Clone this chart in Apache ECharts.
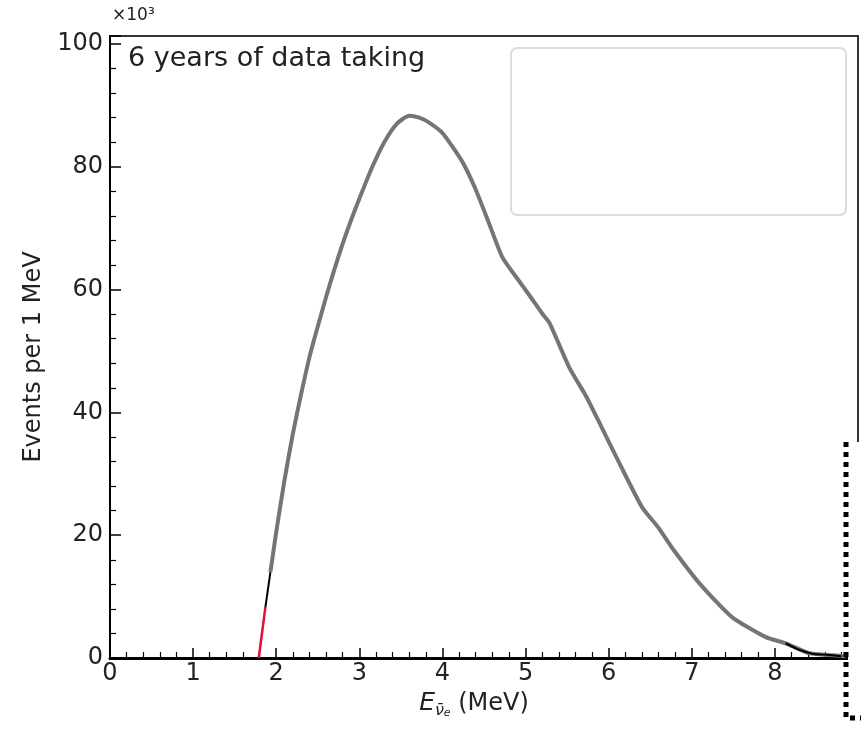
<!DOCTYPE html>
<html>
<head>
<meta charset="utf-8">
<script src="https://cdn.jsdelivr.net/npm/echarts@6/dist/echarts.min.js"></script>
<style>html,body{margin:0;padding:0;background:#fff;}#c{width:861px;height:739px;}</style>
</head>
<body>
<div id="c"></div>
<script>
// Neutrino energy (MeV) and events per 1 MeV (x10^3)
var energy = [1.93, 2.0, 2.1, 2.2, 2.3, 2.4, 2.5, 2.6, 2.7, 2.8, 2.9, 3.0, 3.15, 3.3, 3.45, 3.6, 3.72, 3.84, 4.0, 4.24, 4.4, 4.56, 4.72, 4.9, 5.05, 5.2, 5.29, 5.53, 5.73, 5.9, 6.13, 6.4, 6.6, 6.76, 7.09, 7.48, 7.89, 8.13, 8.41, 8.65, 8.85];
var events = [14.0, 20.5, 29.0, 36.5, 43.0, 49.0, 54.0, 58.8, 63.3, 67.5, 71.3, 74.8, 79.8, 84.0, 87.0, 88.3, 88.0, 87.2, 85.5, 80.8, 76.3, 70.8, 65.3, 61.8, 59.0, 56.1, 54.5, 47.2, 42.6, 38.0, 31.7, 24.6, 21.2, 18.0, 12.2, 6.7, 3.4, 2.4, 0.8, 0.5, 0.3];
// partially visible overlapping curves
var redE = [1.79, 1.87];
var redV = [0, 8.3];
var blackE = [1.87, 1.93];
var blackV = [8.3, 14.0];
var tailBlackE = [8.13, 8.3, 8.45, 8.6, 8.8];
var tailBlackV = [2.4, 1.3, 0.7, 0.55, 0.3];
var xTicks = [0, 1, 2, 3, 4, 5, 6, 7, 8];
var yTicks = [0, 20, 40, 60, 80, 100];

function pairs(a, b) { return a.map(function (v, i) { return [v, b[i]]; }); }

var chart = echarts.init(document.getElementById('c'), null, {renderer: 'canvas'});
var font = 'DejaVu Sans';
chart.setOption({
  animation: false,
  backgroundColor: '#fff',
  grid: {left: 110, right: 2, top: 36, bottom: 81, show: true, borderColor: '#333', borderWidth: 2, backgroundColor: 'transparent'},
  xAxis: {
    type: 'value', min: 0, max: 9, interval: 1,
    name: '{e|E}{s|ν̄}{ss|e}{n| (MeV)}', nameLocation: 'middle', nameGap: 8,
    nameTextStyle: {verticalAlign: 'top', padding: [0, 20, 0, 0], rich: {
      e: {fontFamily: font, fontStyle: 'italic', fontSize: 25, color: '#222'},
      s: {fontFamily: font, fontStyle: 'italic', fontSize: 16, color: '#222', verticalAlign: 'bottom', padding: [14, 0, 0, 0]},
      ss: {fontFamily: font, fontStyle: 'italic', fontSize: 11, color: '#222', verticalAlign: 'bottom', padding: [18, 0, 0, 0]},
      n: {fontFamily: font, fontSize: 24, color: '#222'}
    }},
    axisLine: {show: true, lineStyle: {color: '#000', width: 3}},
    axisTick: {show: true, inside: true, length: 10, lineStyle: {color: '#000', width: 1.5}},
    minorTick: {show: true, splitNumber: 5, length: 6, lineStyle: {color: '#000', width: 1.2}},
    axisLabel: {fontFamily: font, fontSize: 24, color: '#222', margin: 4,
      formatter: function (v) { return xTicks.indexOf(v) >= 0 ? String(v) : ''; }},
    splitLine: {show: false}
  },
  yAxis: {
    type: 'value', min: 0, max: 101.3, interval: 20,
    name: 'Events per 1 MeV', nameLocation: 'middle', nameGap: 64, nameRotate: 90,
    nameTextStyle: {fontFamily: font, fontSize: 24, color: '#222', padding: [0, 20, 0, 0]},
    axisLine: {show: true, lineStyle: {color: '#000', width: 2}},
    axisTick: {show: true, inside: true, length: 11, lineStyle: {color: '#000', width: 1.5}},
    minorTick: {show: true, splitNumber: 5, length: 6, lineStyle: {color: '#000', width: 1.2}},
    axisLabel: {fontFamily: font, fontSize: 24, color: '#222', margin: 7,
      formatter: function (v) { return yTicks.indexOf(v) >= 0 ? String(v) : ''; }},
    splitLine: {show: false}
  },
  graphic: [
    {type: 'text', left: 112, top: 7, style: {text: '×10³', fontFamily: font, fontSize: 17, fill: '#222'}},
    {type: 'text', left: 128, top: 45, style: {text: '6 years of data taking', fontFamily: font, fontSize: 27, fill: '#222'}},
    {type: 'rect', shape: {x: 511, y: 48, width: 335, height: 167, r: 6}, style: {fill: 'none', stroke: '#dcdcdc', lineWidth: 2}},
    {type: 'rect', shape: {x: 848, y: 442, width: 13, height: 297}, style: {fill: '#fff'}, z: 50},
    {type: 'polyline', shape: {points: [[846, 442], [846, 718], [861, 718]]}, style: {stroke: '#000', lineWidth: 5, lineDash: [5, 5], fill: 'none'}, z: 51}
  ],
  series: [
    {type: 'line', data: pairs(energy, events), showSymbol: false, smooth: 0.2, lineStyle: {color: '#757575', width: 4}, z: 3},
    {type: 'line', data: pairs(redE, redV), showSymbol: false, lineStyle: {color: '#e0103c', width: 2.5}, z: 4},
    {type: 'line', data: pairs(blackE, blackV), showSymbol: false, lineStyle: {color: '#000', width: 2}, z: 4},
    {type: 'line', data: pairs(tailBlackE, tailBlackV), showSymbol: false, smooth: 0.3, lineStyle: {color: '#000', width: 2}, z: 4}
  ]
});
</script>
</body>
</html>
